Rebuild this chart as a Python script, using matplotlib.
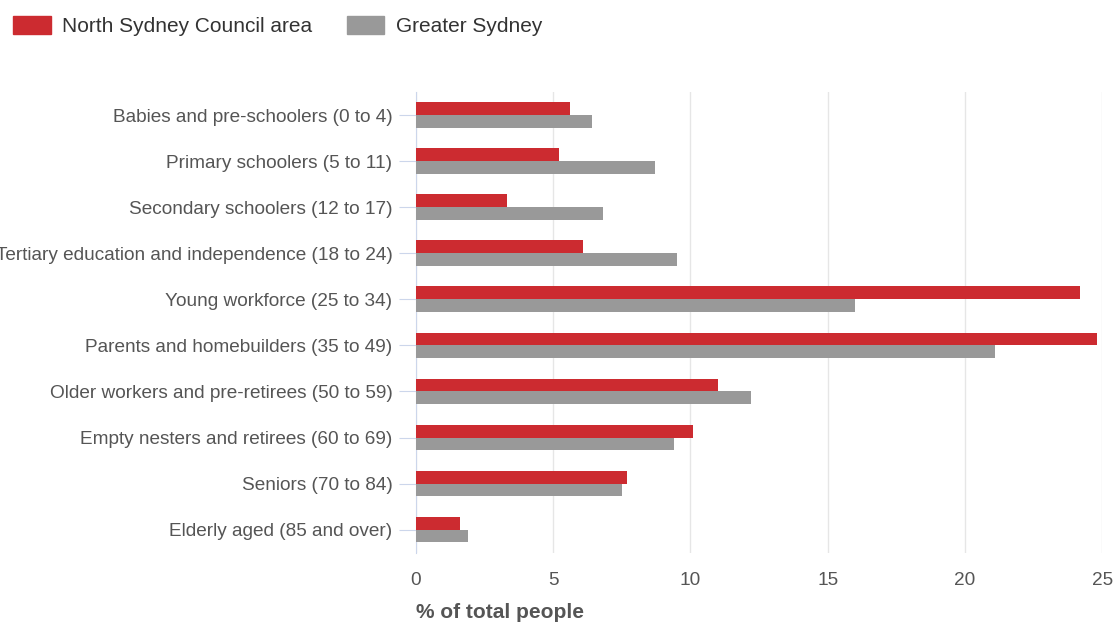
import matplotlib.pyplot as plt
import numpy as np
from matplotlib.patches import Patch

plt.rcParams['font.family'] = ['Liberation Sans', 'DejaVu Sans']

categories = [
    "Babies and pre-schoolers (0 to 4)",
    "Primary schoolers (5 to 11)",
    "Secondary schoolers (12 to 17)",
    "Tertiary education and independence (18 to 24)",
    "Young workforce (25 to 34)",
    "Parents and homebuilders (35 to 49)",
    "Older workers and pre-retirees (50 to 59)",
    "Empty nesters and retirees (60 to 69)",
    "Seniors (70 to 84)",
    "Elderly aged (85 and over)",
]
north_sydney = [5.6, 5.2, 3.3, 6.1, 24.2, 24.8, 11.0, 10.1, 7.7, 1.6]
greater_sydney = [6.4, 8.7, 6.8, 9.5, 16.0, 21.1, 12.2, 9.4, 7.5, 1.9]
x_ticks = [0, 5, 10, 15, 20, 25]

red = '#cc2b30'
gray = '#999999'
text_color = '#555555'

fig = plt.figure(figsize=(11.18, 6.23), dpi=100)
ax = fig.add_axes([0.372, 0.113, 0.614, 0.739])

y = np.arange(len(categories))
h = 0.28
ax.barh(y - h / 2, north_sydney, height=h, color=red, zorder=3)
ax.barh(y + h / 2, greater_sydney, height=h, color=gray, zorder=3)

ax.set_ylim(len(categories) - 0.5, -0.5)
ax.set_xlim(0, 25)
ax.set_xticks(x_ticks)
ax.set_yticks(y)
ax.set_yticklabels(categories)

ax.grid(axis='x', color='#e6e6e6', linewidth=1, zorder=0)
for side in ['top', 'right', 'bottom']:
    ax.spines[side].set_visible(False)
ax.spines['left'].set_color('#ccd6eb')

ax.tick_params(axis='y', length=12, color='#ccd6eb', labelsize=13.7,
               labelcolor=text_color, pad=5)
ax.tick_params(axis='x', length=0, labelsize=13.7, labelcolor=text_color, pad=14)

ax.set_xlabel('% of total people', fontsize=15, color=text_color,
              fontweight='bold', loc='left', labelpad=10)

# legend sits above the plot, top-left of the figure
handles = [Patch(color=red, label='North Sydney Council area'),
           Patch(color=gray, label='Greater Sydney')]
fig.legend(handles=handles, loc='upper left', bbox_to_anchor=(-0.005, 1.004),
           ncol=2, frameon=False, fontsize=15, handlelength=1.8,
           handleheight=0.9, handletextpad=0.55, columnspacing=1.65,
           labelcolor='#333333')

plt.savefig('out.png')
plt.close()
